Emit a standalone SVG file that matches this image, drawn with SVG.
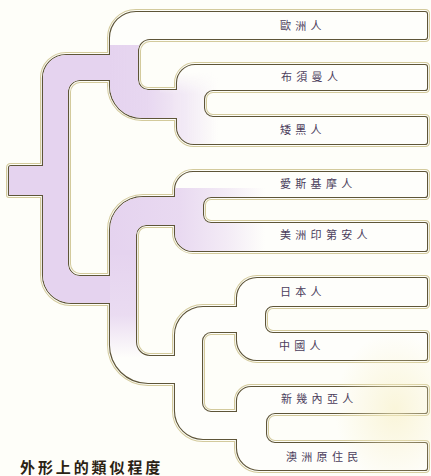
<svg xmlns="http://www.w3.org/2000/svg" width="431" height="476" viewBox="0 0 431 476">
<style>
.lbl{font-family:"Noto Sans CJK TC","Noto Sans CJK SC",sans-serif;font-size:11px;letter-spacing:4.3px;fill:#4b3d5c;}
.title{font-family:"Noto Sans CJK TC","Noto Sans CJK SC",sans-serif;font-size:15px;font-weight:bold;letter-spacing:2.9px;fill:#2b2214;}
.edge-tan{fill:none;stroke:#d3ca9c;stroke-width:6;stroke-linejoin:round;}
.edge-gap{fill:none;stroke:#fefef9;stroke-width:4;stroke-linejoin:round;}
.edge-dark{fill:none;stroke:#5e5538;stroke-width:2.2;stroke-linejoin:round;}
</style>
<defs>
<path id="pipe" d="M9,195 L9,168 Q9,166 11,166 L43,166 L43,78 A23,23 0 0 1 66,55 L110,55 L110,38 A26,26 0 0 1 136,12 L425,12 Q427,12 427,14 L427,37 Q427,39 425,39 L150,39 A12,12 0 0 0 138,51 L138,80 A10,10 0 0 0 148,90 L177,90 L177,83 A18,18 0 0 1 195,65 L425,65 Q427,65 427,67 L427,88 Q427,90 425,90 L213,90 A9,9 0 0 0 204,99 L204,108 A9,9 0 0 0 213,117 L425,117 Q427,117 427,119 L427,142 Q427,144 425,144 L194,144 A17,17 0 0 1 177,127 L177,118 L142,118 A32,32 0 0 1 110,86 L110,80 L80,80 A12,12 0 0 0 68,92 L68,264 A12,12 0 0 0 80,276 L110,276 L110,230 A33,33 0 0 1 143,197 L175,197 L175,190 A18,18 0 0 1 193,172 L425,172 Q427,172 427,174 L427,195 Q427,197 425,197 L211,197 A8,8 0 0 0 203,205 L203,215 A8,8 0 0 0 211,223 L425,223 Q427,223 427,225 L427,249 Q427,251 425,251 L193,251 A18,18 0 0 1 175,233 L175,225 L146,225 A10,10 0 0 0 136,235 L136,342 A14,14 0 0 0 150,356 L175,356 L175,335 A28,28 0 0 1 203,307 L237,307 L237,298 A20,20 0 0 1 257,278 L425,278 Q427,278 427,280 L427,304 Q427,306 425,306 L273,306 A8,8 0 0 0 265,314 L265,325 A8,8 0 0 0 273,333 L425,333 Q427,333 427,335 L427,358 Q427,360 425,360 L257,360 A20,20 0 0 1 237,340 L237,332 L211,332 A9,9 0 0 0 202,341 L202,403 A9,9 0 0 0 211,412 L237,412 L237,401 A14,14 0 0 1 251,387 L425,387 Q427,387 427,389 L427,411 Q427,413 425,413 L275,413 A9,9 0 0 0 266,422 L266,434 A9,9 0 0 0 275,443 L425,443 Q427,443 427,445 L427,468 Q427,470 425,470 L259,470 A22,22 0 0 1 237,448 L237,439 L203,439 A28,28 0 0 1 175,411 L175,383 L148,383 A38,38 0 0 1 110,345 L110,303 L71,303 A28,28 0 0 1 43,275 L43,195 Z"/>
<clipPath id="pipeClip"><use href="#pipe"/></clipPath>
<linearGradient id="fadeUpper" gradientUnits="userSpaceOnUse" x1="110" y1="0" x2="218" y2="0">
<stop offset="0" stop-color="#e5d3ef" stop-opacity="1"/>
<stop offset="0.35" stop-color="#e5d3ef" stop-opacity="0.9"/>
<stop offset="0.7" stop-color="#e5d3ef" stop-opacity="0.45"/>
<stop offset="1" stop-color="#e5d3ef" stop-opacity="0"/>
</linearGradient>
<linearGradient id="maskV" gradientUnits="userSpaceOnUse" x1="0" y1="72" x2="0" y2="94">
<stop offset="0" stop-color="#000"/>
<stop offset="1" stop-color="#fff"/>
</linearGradient>
<mask id="upperMask" maskUnits="userSpaceOnUse" x="0" y="0" width="431" height="476">
<rect x="100" y="45" width="60" height="120" fill="#fff"/>
<rect x="160" y="45" width="70" height="120" fill="url(#maskV)"/>
</mask>
<linearGradient id="fadeLower" gradientUnits="userSpaceOnUse" x1="110" y1="0" x2="265" y2="0">
<stop offset="0" stop-color="#e5d3ef" stop-opacity="1"/>
<stop offset="0.45" stop-color="#e5d3ef" stop-opacity="0.85"/>
<stop offset="0.75" stop-color="#e5d3ef" stop-opacity="0.45"/>
<stop offset="1" stop-color="#e5d3ef" stop-opacity="0"/>
</linearGradient>
<linearGradient id="fadeDown" gradientUnits="userSpaceOnUse" x1="0" y1="250" x2="0" y2="358">
<stop offset="0" stop-color="#e5d3ef" stop-opacity="1"/>
<stop offset="0.6" stop-color="#e5d3ef" stop-opacity="0.8"/>
<stop offset="1" stop-color="#e5d3ef" stop-opacity="0"/>
</linearGradient>
<radialGradient id="blotch" cx="0.5" cy="0.5" r="0.5">
<stop offset="0" stop-color="#f7efc4" stop-opacity="0.6"/>
<stop offset="1" stop-color="#f7efc4" stop-opacity="0"/>
</radialGradient>
</defs>
<rect x="0" y="0" width="431" height="476" fill="#fefef9"/>
<g id="connectors">
<use href="#pipe" class="edge-tan"/>
<use href="#pipe" class="edge-gap"/>
<use href="#pipe" class="edge-dark"/>
<use href="#pipe" fill="#fefefb"/>
<g clip-path="url(#pipeClip)">
<rect x="0" y="40" width="110" height="270" fill="#e5d3ef"/>
<rect x="110" y="45" width="110" height="110" fill="url(#fadeUpper)" mask="url(#upperMask)"/>
<path d="M110,188 H265 V255 H110 Z" fill="url(#fadeLower)"/>
<rect x="108" y="250" width="32" height="110" fill="url(#fadeDown)"/>
</g>
<ellipse cx="395" cy="410" rx="60" ry="78" fill="url(#blotch)"/>
</g>
<g id="node-european"><text class="lbl" x="280" y="30">歐洲人</text></g>
<g id="node-bushman"><text class="lbl" x="281" y="81">布須曼人</text></g>
<g id="node-pygmy"><text class="lbl" x="280" y="134">矮黑人</text></g>
<g id="node-eskimo"><text class="lbl" x="280" y="188">愛斯基摩人</text></g>
<g id="node-amerindian"><text class="lbl" x="280" y="239">美洲印第安人</text></g>
<g id="node-japanese"><text class="lbl" x="280" y="296">日本人</text></g>
<g id="node-chinese"><text class="lbl" x="279" y="350">中國人</text></g>
<g id="node-newguinean"><text class="lbl" x="281" y="403">新幾內亞人</text></g>
<g id="node-aboriginal"><text class="lbl" x="286" y="461">澳洲原住民</text></g>
<g id="title"><text class="title" x="20" y="473">外形上的類似程度</text></g>
</svg>
